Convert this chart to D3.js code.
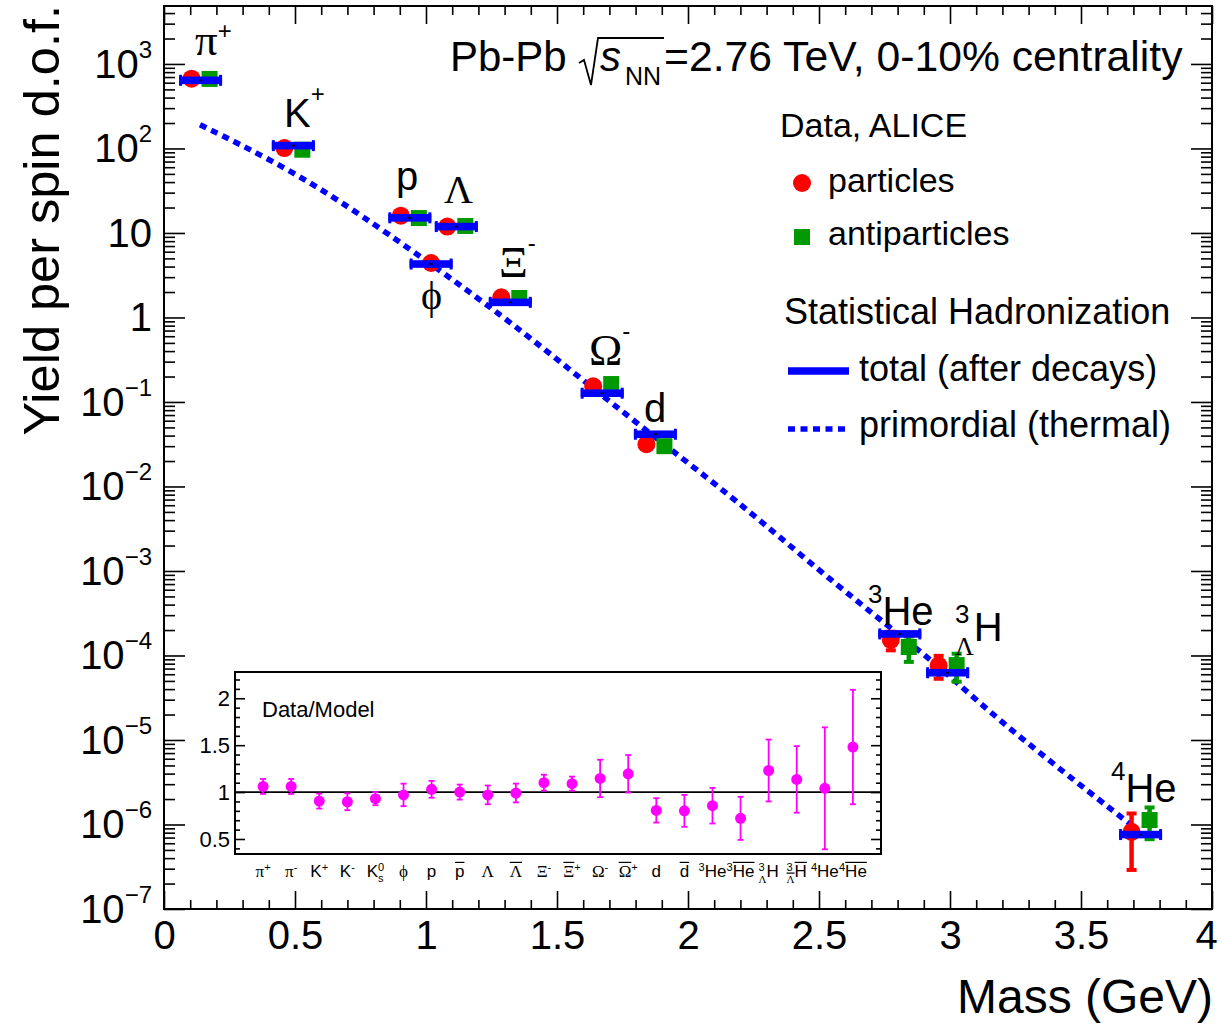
<!DOCTYPE html>
<html>
<head>
<meta charset="utf-8">
<script src="https://cdn.jsdelivr.net/npm/d3@7"></script>
<style>
  body { margin: 0; background: #fff; }
  text { font-family: "Liberation Sans", Arial, sans-serif; fill: #000; }
  text.greek { font-family: "Liberation Serif", "DejaVu Serif", serif; }
</style>
</head>
<body>
<svg id="chart" width="1222" height="1029"></svg>
<script>
// main panel: yield per spin d.o.f. vs mass
const species = ["pi+", "K+", "p", "phi", "Lambda", "Xi-", "Omega-", "d", "3He", "3LH", "4He"];
const masses = [0.1396, 0.4937, 0.9383, 1.0195, 1.1157, 1.3217, 1.6725, 1.8756, 2.8084, 2.9910, 3.7274];
const particleYield = [670, 101, 16.0, 4.41, 11.9, 1.73, 0.153, 0.0316, 1.53e-4, 7.6e-5, 8.2e-7];
const particleErr = [0, 0, 0, 0, 0, 0, 0, 0, 3.8e-5, 2.3e-5, 5.3e-7];
const antiYield = [665, 96.6, 15.0, null, 12.1, 1.70, 0.163, 0.030, 1.26e-4, 7.7e-5, 1.13e-6];
const antiErr = [0, 0, 0, null, 0, 0, 0, 0, 4.2e-5, 2.8e-5, 4.6e-7];
const modelTotal = [640, 108, 15.1, 4.29, 11.9, 1.51, 0.127, 0.0415, 1.80e-4, 6.25e-5, 7.6e-7];

// primordial (thermal) curve
const primMass = [0.1375, 0.494, 0.838, 1.303, 1.62, 1.90, 2.174, 2.506, 2.766, 2.977, 3.194, 3.684];
const primYield = [191, 54.6, 10.9, 1.0, 0.16, 0.033, 7.3e-3, 9.8e-4, 2.2e-4, 6.7e-5, 1.6e-5, 1.03e-6];

// inset: data/model ratio
const ratioLabels = [
  [{t: "π", g: 1}, {t: "+", s: .65, dy: -.38}],
  [{t: "π", g: 1}, {t: "-", s: .65, dy: -.38}],
  [{t: "K"}, {t: "+", s: .65, dy: -.38}],
  [{t: "K"}, {t: "-", s: .65, dy: -.38}],
  [{t: "K"}, {t: "0", s: .65, dy: -.38}, {t: "s", s: .65, dy: .3, stack: 1}],
  [{t: "ϕ", g: 1}],
  [{t: "p"}],
  [{t: "p", bar: 1}],
  [{t: "Λ", g: 1}],
  [{t: "Λ", g: 1, bar: 1}],
  [{t: "Ξ", g: 1}, {t: "-", s: .65, dy: -.38}],
  [{t: "Ξ", g: 1, bar: 1}, {t: "+", s: .65, dy: -.38}],
  [{t: "Ω", g: 1}, {t: "-", s: .65, dy: -.38}],
  [{t: "Ω", g: 1, bar: 1}, {t: "+", s: .65, dy: -.38}],
  [{t: "d"}],
  [{t: "d", bar: 1}],
  [{t: "3", s: .65, dy: -.38}, {t: "He"}],
  [{t: "3", s: .65, dy: -.38}, {t: "He", bar: 1}],
  [{t: "3", s: .65, dy: -.38}, {t: "Λ", g: 1, s: .65, dy: .35, stack: 1}, {t: "H"}],
  [{t: "3", s: .65, dy: -.38}, {t: "Λ", g: 1, s: .65, dy: .35, stack: 1, bar: 1}, {t: "H", bar: 1}],
  [{t: "4", s: .65, dy: -.38}, {t: "He"}],
  [{t: "4", s: .65, dy: -.38}, {t: "He", bar: 1}]
];
const ratio = [1.06, 1.06, 0.904, 0.897, 0.93, 0.97, 1.03, 1.0, 0.97, 0.99, 1.10, 1.09,
               1.145, 1.195, 0.805, 0.80, 0.855, 0.72, 1.23, 1.135, 1.04, 1.48];
const ratioErr = [0.08, 0.08, 0.08, 0.09, 0.07, 0.12, 0.09, 0.08, 0.10, 0.10, 0.085, 0.075,
                  0.2, 0.2, 0.13, 0.17, 0.19, 0.23, 0.33, 0.355, 0.65, 0.61];

const xMajor = [0, 0.5, 1, 1.5, 2, 2.5, 3, 3.5, 4];
const decades = [-7, -6, -5, -4, -3, -2, -1, 0, 1, 2, 3];
const insetMajor = [0.5, 1, 1.5, 2];

const svg = d3.select("#chart");
const frame = {left: 164, right: 1212, top: 6, bottom: 909};
const x = d3.scaleLinear().domain([0, 4]).range([frame.left, frame.right]);
const y = d3.scaleLog().domain([1e-7, 4850]).range([frame.bottom, frame.top]);

svg.append("rect").attr("width", 1222).attr("height", 1029).attr("fill", "#fff");

// rich text: base, superscripts, subscripts, overlines
function rich(g, px, py, parts, size, anchor) {
  const grp = g.append("g");
  let cx = 0, lastStart = 0, lastW = 0;
  parts.forEach(p => {
    const fs = size * (p.s || 1);
    const start = p.stack ? lastStart : cx;
    const yy = (p.dy || 0) * size;
    const t = grp.append("text")
      .attr("x", start).attr("y", yy)
      .attr("class", p.g ? "greek" : null)
      .style("font-size", fs + "px")
      .text(p.t);
    const w = t.node().getComputedTextLength();
    if (p.bar) {
      grp.append("line")
        .attr("x1", start).attr("x2", start + w)
        .attr("y1", yy - 0.8 * fs - 1).attr("y2", yy - 0.8 * fs - 1)
        .attr("stroke", "#000").attr("stroke-width", 1.2);
    }
    cx = p.stack ? lastStart + Math.max(lastW, w) : start + w;
    lastStart = start; lastW = w;
  });
  const off = anchor === "middle" ? -cx / 2 : 0;
  grp.attr("transform", `translate(${px + off},${py})`);
}

function styleAxis(g) {
  g.attr("font-size", null).attr("font-family", null);
  g.select(".domain").remove();
  g.selectAll("line").attr("stroke", "#000").attr("stroke-width", 1.6);
  return g;
}

// minor ticks
const xMinor = d3.range(1, 40).map(i => i / 10).filter(v => Math.round(v * 10) % 5 !== 0);
const yMinor = [];
decades.forEach(e => d3.range(2, 10).forEach(k => {
  const v = k * Math.pow(10, e);
  if (v < 4850) yMinor.push(v);
}));

// bottom
const xLabels = styleAxis(svg.append("g").attr("transform", `translate(0,${frame.bottom})`)
  .call(d3.axisBottom(x).tickValues(xMajor).tickSize(-18).tickPadding(11.6)
    .tickFormat(d => String(+d.toFixed(1)))))
  .selectAll("text").style("font-size", "40px");
xLabels.filter(d => d === 4).attr("dx", -6);
styleAxis(svg.append("g").attr("transform", `translate(0,${frame.bottom})`)
  .call(d3.axisBottom(x).tickValues(xMinor).tickSize(-9).tickFormat("")));
// top
styleAxis(svg.append("g").attr("transform", `translate(0,${frame.top})`)
  .call(d3.axisTop(x).tickValues(xMajor).tickSize(-18).tickFormat("")));
styleAxis(svg.append("g").attr("transform", `translate(0,${frame.top})`)
  .call(d3.axisTop(x).tickValues(xMinor).tickSize(-9).tickFormat("")));
// left / right
[[d3.axisLeft, frame.left], [d3.axisRight, frame.right]].forEach(([ax, px]) => {
  styleAxis(svg.append("g").attr("transform", `translate(${px},0)`)
    .call(ax(y).tickValues(decades.map(e => Math.pow(10, e))).tickSize(-21).tickFormat("")));
  styleAxis(svg.append("g").attr("transform", `translate(${px},0)`)
    .call(ax(y).tickValues(yMinor).tickSize(-11).tickFormat("")));
});

// y tick labels
decades.forEach(e => {
  const t = svg.append("text")
    .attr("x", 152).attr("y", y(Math.pow(10, e)) + 14)
    .attr("text-anchor", "end").style("font-size", "40px");
  if (e === 0) t.text("1");
  else if (e === 1) t.text("10");
  else {
    t.text("10");
    t.append("tspan").attr("dy", -20).style("font-size", "24px")
      .text(e < 0 ? "\u2212" + (-e) : String(e));
  }
});

svg.append("rect")
  .attr("x", frame.left).attr("y", frame.top)
  .attr("width", frame.right - frame.left).attr("height", frame.bottom - frame.top)
  .attr("fill", "none").attr("stroke", "#000").attr("stroke-width", 2);

// axis titles
svg.append("text")
  .attr("transform", "translate(59,5) rotate(-90)")
  .attr("text-anchor", "end").style("font-size", "50.5px")
  .text("Yield per spin d.o.f.");
svg.append("text")
  .attr("x", 1213).attr("y", 1013).attr("text-anchor", "end")
  .style("font-size", "48px").text("Mass (GeV)");

// primordial curve
const primLine = d3.line().x(d => x(d[0])).y(d => y(d[1])).curve(d3.curveBasis);
svg.append("path")
  .datum(d3.zip(primMass, primYield))
  .attr("d", primLine)
  .attr("fill", "none").attr("stroke", "#0000ff")
  .attr("stroke-width", 5.5).attr("stroke-dasharray", "7 5.5");

// data markers
const RED = "#ff0000", GREEN = "#009a00", BLUE = "#0000ff";
function errBar(g, cx, v, e, color) {
  if (!e) return;
  const y1 = y(v + e), y2 = y(v - e);
  g.append("line").attr("x1", cx).attr("x2", cx).attr("y1", y1).attr("y2", y2)
    .attr("stroke", color).attr("stroke-width", 4.5);
  [y1, y2].forEach(yy => g.append("rect")
    .attr("x", cx - 5).attr("y", yy - 2).attr("width", 10).attr("height", 4).attr("fill", color));
}
const marks = svg.append("g");
masses.forEach((m, i) => {
  const hasAnti = antiYield[i] !== null;
  const xp = x(m) + (hasAnti ? -9 : 0);
  errBar(marks, xp, particleYield[i], particleErr[i], RED);
  marks.append("circle").attr("cx", xp).attr("cy", y(particleYield[i])).attr("r", 9).attr("fill", RED);
  if (hasAnti) {
    const xa = x(m) + 9;
    errBar(marks, xa, antiYield[i], antiErr[i], GREEN);
    marks.append("rect").attr("x", xa - 8).attr("y", y(antiYield[i]) - 8)
      .attr("width", 16).attr("height", 16).attr("fill", GREEN);
  }
});
masses.forEach((m, i) => {
  const cx = x(m), cy = y(modelTotal[i]);
  marks.append("rect").attr("x", cx - 21.5).attr("y", cy - 3.8).attr("width", 43).attr("height", 7.6).attr("fill", BLUE);
  [cx - 21.5, cx + 18.5].forEach(xx => marks.append("rect")
    .attr("x", xx).attr("y", cy - 5.5).attr("width", 3).attr("height", 11).attr("fill", BLUE));
  marks.append("rect").attr("x", cx - 1.5).attr("y", cy - 0.8).attr("width", 3).attr("height", 1.6).attr("fill", "#000");
});

// particle labels on the main panel
const annotations = [
  {parts: [{t: "π", g: 1, s: 1.12}, {t: "+", s: .6, dy: -.4}], x: 195, y: 55},
  {parts: [{t: "K"}, {t: "+", s: .6, dy: -.62}], x: 284, y: 127},
  {parts: [{t: "p"}], x: 396, y: 190},
  {parts: [{t: "ϕ", g: 1}], x: 421, y: 309},
  {parts: [{t: "Λ", g: 1}], x: 444, y: 203},
  {parts: [{t: "Ξ", g: 1, s: 1.12}, {t: "-", s: .6, dy: -.65}], x: 499, y: 277},
  {parts: [{t: "Ω", g: 1, s: 1.12}, {t: "-", s: .6, dy: -.65}], x: 589, y: 365},
  {parts: [{t: "d"}], x: 644, y: 422},
  {parts: [{t: "3", s: .65, dy: -.55}, {t: "He"}], x: 868, y: 625},
  {parts: [{t: "3", s: .65, dy: -.45}, {t: "Λ", g: 1, s: .65, dy: .35, stack: 1}, {t: "H"}], x: 955, y: 641},
  {parts: [{t: "4", s: .65, dy: -.55}, {t: "He"}], x: 1111, y: 802}
];
annotations.forEach(a => rich(svg, a.x, a.y, a.parts, 40, "start"));

// title
svg.append("text").attr("x", 450).attr("y", 71).style("font-size", "42px").text("Pb-Pb");
svg.append("path").attr("d", "M579,63 L584,60 L591,85 L598,38 L664,38")
  .attr("fill", "none").attr("stroke", "#000").attr("stroke-width", 1.8);
svg.append("text").attr("x", 600).attr("y", 71).style("font-size", "42px").style("font-style", "italic").text("s");
svg.append("text").attr("x", 625).attr("y", 85).style("font-size", "25px").text("NN");
svg.append("text").attr("x", 664).attr("y", 71)
  .style("font-size", "42.7px").text("=2.76 TeV, 0-10% centrality");

// legend
svg.append("text").attr("x", 780).attr("y", 137).style("font-size", "34px").text("Data, ALICE");
svg.append("circle").attr("cx", 802).attr("cy", 183).attr("r", 9).attr("fill", RED);
svg.append("text").attr("x", 828).attr("y", 192).style("font-size", "34px").text("particles");
svg.append("rect").attr("x", 794).attr("y", 229).attr("width", 16).attr("height", 16).attr("fill", GREEN);
svg.append("text").attr("x", 828).attr("y", 245).style("font-size", "34px").text("antiparticles");
svg.append("text").attr("x", 784).attr("y", 324).style("font-size", "36px").text("Statistical Hadronization");
svg.append("line").attr("x1", 788).attr("x2", 849).attr("y1", 371).attr("y2", 371)
  .attr("stroke", BLUE).attr("stroke-width", 7.5);
svg.append("text").attr("x", 859).attr("y", 381).style("font-size", "36px").text("total (after decays)");
svg.append("line").attr("x1", 788).attr("x2", 849).attr("y1", 429).attr("y2", 429)
  .attr("stroke", BLUE).attr("stroke-width", 5.5).attr("stroke-dasharray", "7 5.5");
svg.append("text").attr("x", 859).attr("y", 437).style("font-size", "36px").text("primordial (thermal)");

// inset
const inset = {left: 235, right: 881, top: 672, bottom: 854};
const rx = d3.scaleLinear().domain([0, 23]).range([inset.left, inset.right]);
const ry = d3.scaleLinear().domain([0.34, 2.28]).range([inset.bottom, inset.top]);
const ig = svg.append("g");
ig.append("rect").attr("x", inset.left).attr("y", inset.top)
  .attr("width", inset.right - inset.left).attr("height", inset.bottom - inset.top)
  .attr("fill", "#fff");
const insetMinor = d3.range(4, 23).map(i => i / 10).filter(v => Math.round(v * 10) % 5 !== 0);
const il = styleAxis(ig.append("g").attr("transform", `translate(${inset.left},0)`)
  .call(d3.axisLeft(ry).tickValues(insetMajor).tickSize(-10).tickPadding(5).tickFormat(d3.format(""))));
il.selectAll("text").style("font-size", "22px");
styleAxis(ig.append("g").attr("transform", `translate(${inset.left},0)`)
  .call(d3.axisLeft(ry).tickValues(insetMinor).tickSize(-5).tickFormat("")));
styleAxis(ig.append("g").attr("transform", `translate(${inset.right},0)`)
  .call(d3.axisRight(ry).tickValues(insetMajor).tickSize(-10).tickFormat("")));
styleAxis(ig.append("g").attr("transform", `translate(${inset.right},0)`)
  .call(d3.axisRight(ry).tickValues(insetMinor).tickSize(-5).tickFormat("")));
ig.append("line").attr("x1", inset.left).attr("x2", inset.right)
  .attr("y1", ry(1)).attr("y2", ry(1)).attr("stroke", "#000").attr("stroke-width", 1.6);
ratio.forEach((v, i) => {
  const cx = rx(i + 1);
  const y1 = ry(v + ratioErr[i]), y2 = ry(v - ratioErr[i]);
  ig.append("line").attr("x1", cx).attr("x2", cx).attr("y1", y1).attr("y2", y2)
    .attr("stroke", "#ff00ff").attr("stroke-width", 1.8);
  [y1, y2].forEach(yy => ig.append("line").attr("x1", cx - 3).attr("x2", cx + 3)
    .attr("y1", yy).attr("y2", yy).attr("stroke", "#ff00ff").attr("stroke-width", 1.8));
  ig.append("circle").attr("cx", cx).attr("cy", ry(v)).attr("r", 5.5).attr("fill", "#ff00ff");
  rich(ig, cx, 877, ratioLabels[i], 17, "middle");
});
ig.append("rect").attr("x", inset.left).attr("y", inset.top)
  .attr("width", inset.right - inset.left).attr("height", inset.bottom - inset.top)
  .attr("fill", "none").attr("stroke", "#000").attr("stroke-width", 2);
ig.append("text").attr("x", 262).attr("y", 717).style("font-size", "22px").text("Data/Model");
</script>
</body>
</html>
